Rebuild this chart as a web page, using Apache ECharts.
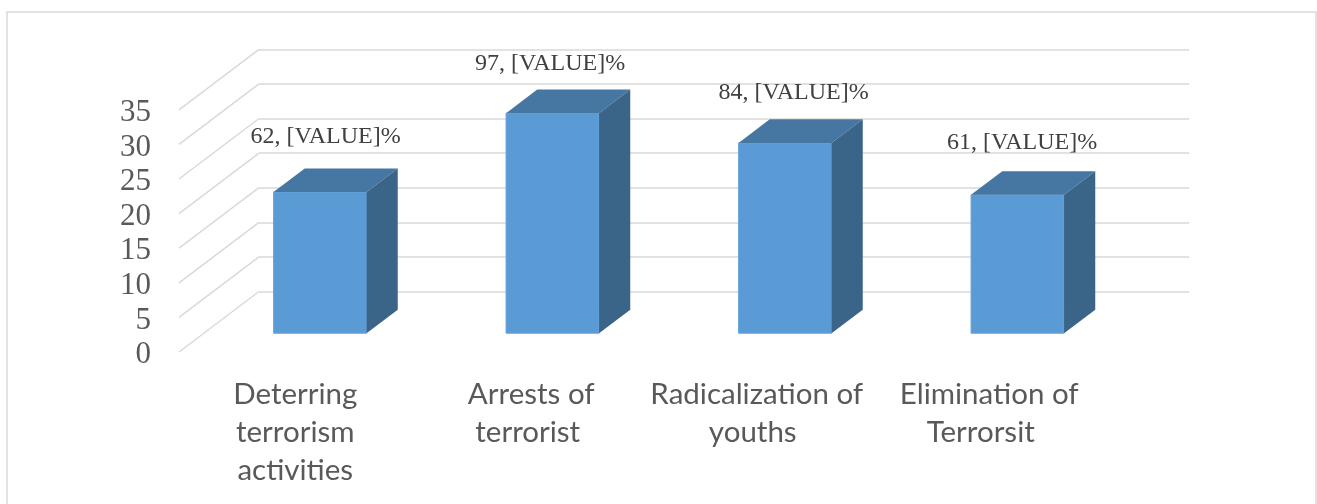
<!DOCTYPE html>
<html>
<head>
<meta charset="utf-8">
<title>Chart</title>
<style>
    html, body { margin: 0; padding: 0; background: #fff; overflow: hidden; }
    #chart { width: 1317px; height: 504px; }
</style>
<script src="https://cdn.jsdelivr.net/npm/echarts@6/dist/echarts.min.js"></script>
</head>
<body>
<div id="chart"></div>
<script>
const categories = ['Deterring\nterrorism\nactivities', 'Arrests of\nterrorist', 'Radicalization of\nyouths', 'Elimination of\nTerrorsit'];
const barValues = [20.4, 31.8, 27.5, 20.0];
const barLabels = ['62, [VALUE]%', '97, [VALUE]%', '84, [VALUE]%', '61, [VALUE]%'];
const yTicks = [0, 5, 10, 15, 20, 25, 30, 35];

// depth of the fake 3D floor, in pixels from back wall to front edge
const floorX = -80;
const floorY = 60.5;
const barFront = 0.69;
const barBack = 0.30;
const barHalf = 0.2;
const labelShift = [[-10, -32], [-18, -26], [-7, -27], [-11, -29]];
// sideways nudge of each line of the category labels
const lineNudge = [[0, 0, 0], [3.5, 0], [-3.5, -7.5], [-3.5, -12]];

function shifted(p, depth) {
    return [p[0] + floorX * depth, p[1] + floorY * depth];
}

function renderBar(params, api) {
    const i = api.value(0);
    const band = api.size([1, 0])[0];
    const top = api.coord([i, api.value(1)]);
    const base = api.coord([i, 0]);
    const half = band * barHalf;
    const tl = shifted([top[0] - half, top[1]], barFront);
    const tr = shifted([top[0] + half, top[1]], barFront);
    const bl = shifted([base[0] - half, base[1]], barFront);
    const br = shifted([base[0] + half, base[1]], barFront);
    const btl = shifted([top[0] - half, top[1]], barBack);
    const btr = shifted([top[0] + half, top[1]], barBack);
    const bbr = shifted([base[0] + half, base[1]], barBack);
    const shift = labelShift[i];
    return {
        type: 'group',
        children: [
            {type: 'polygon', shape: {points: [tl, tr, br, bl]}, style: {fill: '#5b9bd5', stroke: '#6ba5da', lineWidth: 1}},
            {type: 'polygon', shape: {points: [tl, tr, btr, btl]}, style: {fill: '#4676a2'}},
            {type: 'polygon', shape: {points: [tr, btr, bbr, br]}, style: {fill: '#3a6488'}},
            {
                type: 'text',
                style: {
                    text: barLabels[i],
                    x: (tl[0] + btr[0]) / 2 + shift[0],
                    y: btr[1] + shift[1],
                    align: 'center',
                    verticalAlign: 'middle',
                    fill: '#404040',
                    fontFamily: 'Liberation Serif',
                    fontSize: 24
                }
            }
        ]
    };
}

function renderFloorLine(params, api) {
    const band = api.size([1, 0])[0];
    const p = api.coord([0, api.value(0)]);
    const back = [p[0] - band / 2, p[1]];
    return {
        type: 'line',
        shape: {x1: back[0], y1: back[1], x2: back[0] + floorX, y2: back[1] + floorY},
        style: {stroke: '#d9d9d9', lineWidth: 1.5}
    };
}

// one rich style per label line, padded on one side to nudge it
const richLines = {};
lineNudge.forEach(function (lines, i) {
    lines.forEach(function (n, j) {
        richLines['l' + i + '_' + j] = {
            color: '#595959',
            fontFamily: 'Lato',
            fontSize: 29.5,
            lineHeight: 38,
            padding: n > 0 ? [0, 0, 0, n * 2] : [0, -n * 2, 0, 0]
        };
    });
});

const chart = echarts.init(document.getElementById('chart'));
chart.setOption({
    animation: false,
    graphic: [{
        type: 'rect',
        shape: {x: 7, y: 12, width: 1309, height: 520},
        style: {fill: 'none', stroke: '#d9d9d9', lineWidth: 1.5},
        silent: true
    }],
    grid: [
        {left: 259, top: 49.3, width: 930, height: 242.2},
        {left: 179, top: 112.8, width: 930, height: 242.2}
    ],
    xAxis: [
        {type: 'category', gridIndex: 0, data: categories, axisLine: {show: false}, axisTick: {show: false}, axisLabel: {show: false}},
        {
            type: 'category',
            gridIndex: 1,
            data: categories,
            axisLine: {show: false},
            axisTick: {show: false},
            axisLabel: {
                interval: 0,
                margin: 20,
                formatter: function (value, index) {
                    return value.split('\n').map(function (line, j) {
                        return '{l' + index + '_' + j + '|' + line + '}';
                    }).join('\n');
                },
                rich: richLines
            }
        }
    ],
    yAxis: [
        {
            type: 'value',
            gridIndex: 0,
            min: 0,
            max: 35,
            interval: 5,
            axisLabel: {show: false},
            axisLine: {show: false},
            axisTick: {show: false},
            splitLine: {lineStyle: {color: '#d9d9d9', width: 1.5}}
        },
        {
            type: 'value',
            gridIndex: 1,
            min: 0,
            max: 35,
            interval: 5,
            axisLine: {show: false},
            axisTick: {show: false},
            splitLine: {show: false},
            axisLabel: {
                margin: 28,
                color: '#595959',
                fontFamily: 'Liberation Serif',
                fontSize: 31
            }
        }
    ],
    series: [
        {
            type: 'custom',
            xAxisIndex: 0,
            yAxisIndex: 0,
            renderItem: renderFloorLine,
            data: yTicks.map(function (t) { return [t]; }),
            encode: {y: 0},
            z: 1,
            silent: true
        },
        {
            type: 'custom',
            xAxisIndex: 0,
            yAxisIndex: 0,
            renderItem: renderBar,
            data: barValues.map(function (v, i) { return [i, v]; }),
            encode: {x: 0, y: 1},
            z: 2,
            silent: true
        }
    ]
});
</script>
</body>
</html>
